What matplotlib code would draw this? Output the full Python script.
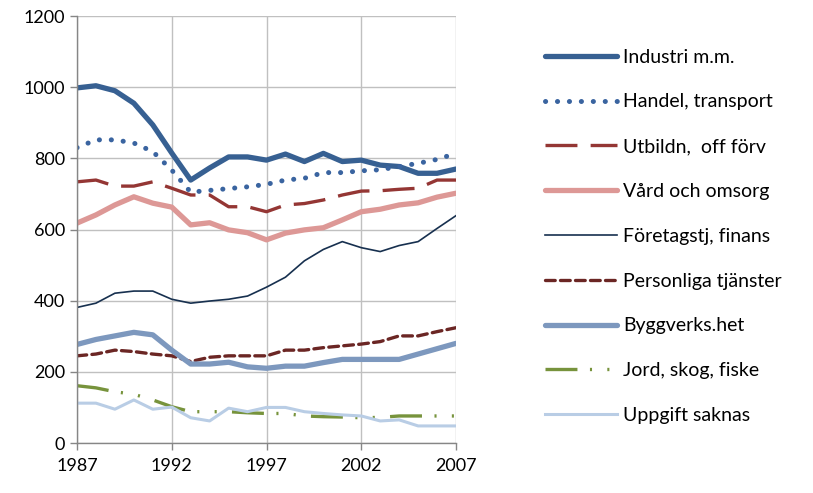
import matplotlib
matplotlib.use("Agg")
import matplotlib.pyplot as plt

plt.rcParams['font.family'] = ['Lato', 'DejaVu Sans']
plt.rcParams['lines.scale_dashes'] = False

years = list(range(1987, 2008))

industri = [998, 1004, 990, 955, 894, 815, 739, 773, 804, 804, 795, 812, 791, 814, 791, 795, 781, 777, 758, 758, 770]
handel = [830, 852, 852, 843, 819, 767, 705, 710, 715, 720, 727, 739, 744, 760, 760, 765, 768, 777, 786, 797, 814]
utbildn = [734, 739, 722, 722, 734, 716, 697, 697, 664, 664, 650, 669, 673, 683, 697, 708, 709, 713, 716, 739, 739]
vard = [618, 641, 669, 692, 674, 663, 613, 619, 599, 591, 571, 590, 599, 605, 627, 650, 657, 669, 675, 691, 702]
foretag = [381, 393, 421, 427, 427, 404, 393, 399, 404, 413, 438, 466, 512, 544, 566, 549, 538, 555, 566, 603, 639]
personliga = [245, 250, 261, 257, 250, 245, 229, 241, 245, 245, 245, 261, 261, 268, 273, 278, 285, 301, 301, 313, 324]
bygg = [277, 291, 301, 311, 304, 261, 222, 222, 227, 214, 210, 216, 216, 226, 235, 235, 235, 235, 250, 265, 280]
jord = [161, 155, 144, 137, 121, 102, 88, 88, 88, 85, 83, 83, 76, 74, 73, 71, 72, 76, 76, 76, 76]
uppgift = [112, 112, 95, 121, 95, 101, 71, 62, 98, 88, 100, 100, 88, 83, 79, 76, 62, 65, 48, 48, 48]

fig = plt.figure(figsize=(8.13, 4.93), dpi=100)
ax = fig.add_axes([0.0947, 0.1014, 0.4662, 0.8661])

ax.plot(years, industri, color='#376092', lw=3.8, solid_capstyle='round', label='Industri m.m.')
ax.plot(years, handel, color='#3A64A0', lw=3.6, ls=(0, (0.1, 8.5)), dash_capstyle='round',
        label='Handel, transport')
ax.plot(years, utbildn, color='#943634', lw=2.4, ls=(0, (23, 9.5)), label='Utbildn,  off förv')
ax.plot(years, vard, color='#DD9896', lw=3.8, solid_capstyle='round', label='Vård och omsorg')
ax.plot(years, foretag, color='#17304F', lw=1.2, label='Företagstj, finans')
ax.plot(years, personliga, color='#6B2624', lw=2.4, ls=(0, (7, 3.8)), dash_capstyle='round',
        label='Personliga tjänster')
ax.plot(years, bygg, color='#7D98BE', lw=3.8, solid_capstyle='round', label='Byggverks.het')
ax.plot(years, jord, color='#77933C', lw=2.4, ls=(0, (23, 9, 1.5, 11, 1.5, 11)),
        label='Jord, skog, fiske')
ax.plot(years, uppgift, color='#B9CDE5', lw=2.2, label='Uppgift saknas')

ax.set_xlim(1987, 2007)
ax.set_ylim(0, 1200)
ax.set_xticks([1987, 1992, 1997, 2002, 2007])
ax.set_yticks(range(0, 1201, 200))
ax.grid(True, color='#C0C0C0', lw=1.0)
ax.set_axisbelow(True)
for s in ['top', 'right']:
    ax.spines[s].set_visible(False)
for s in ['left', 'bottom']:
    ax.spines[s].set_color('#868686')
    ax.spines[s].set_linewidth(1.0)
ax.tick_params(axis='both', colors='#868686', length=5, width=1.0, labelsize=13,
               labelcolor='black')
ax.tick_params(axis='x', pad=6)

fig.legend(loc='upper left', bbox_to_anchor=(0.649, 0.937), frameon=False,
           fontsize=14, handlelength=3.7, handletextpad=0.3, labelspacing=1.43)

fig.savefig('out.png', dpi=100)
